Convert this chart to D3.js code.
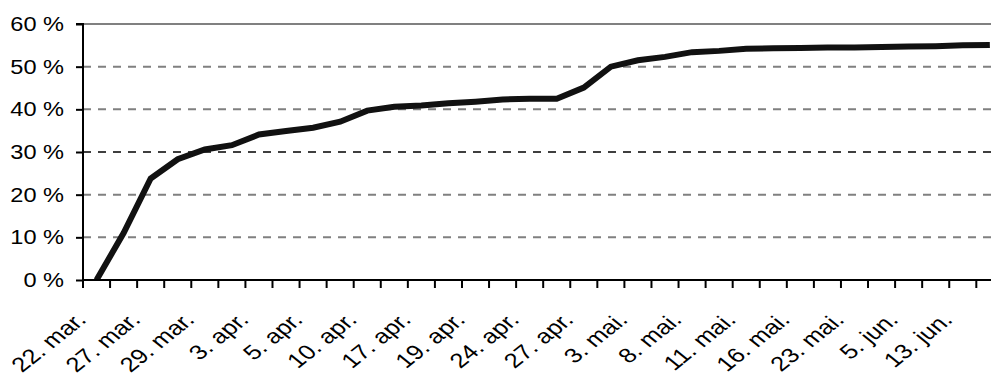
<!DOCTYPE html>
<html>
<head>
<meta charset="utf-8">
<script src="https://cdn.jsdelivr.net/npm/d3@7/dist/d3.min.js"></script>
<style>
  html, body { margin: 0; padding: 0; background: #fff; }
  svg { display: block; }
  text { font-family: "Liberation Sans", Arial, sans-serif; fill: #000; }
</style>
</head>
<body>
<svg id="chart" width="991" height="383"></svg>
<script>
// ---- data ----
const categories = [
  "22. mar.", "24. mar.", "27. mar.", "28. mar.", "29. mar.", "31. mar.",
  "3. apr.", "4. apr.", "5. apr.", "7. apr.", "10. apr.", "14. apr.",
  "17. apr.", "18. apr.", "19. apr.", "21. apr.", "24. apr.", "25. apr.",
  "27. apr.", "30. apr.", "3. mai.", "5. mai.", "8. mai.", "10. mai.",
  "11. mai.", "14. mai.", "16. mai.", "20. mai.", "23. mai.", "28. mai.",
  "5. jun.", "10. jun.", "13. jun.", "17. jun."
];
const values = [
  0, 11.0, 23.8, 28.3, 30.6, 31.6,
  34.1, 34.9, 35.7, 37.1, 39.7, 40.6,
  40.9, 41.4, 41.8, 42.3, 42.5, 42.5,
  45.1, 50.0, 51.5, 52.3, 53.4, 53.7,
  54.2, 54.3, 54.4, 54.5, 54.5, 54.6,
  54.7, 54.8, 55.0, 55.1
];
const yTicks = [0, 10, 20, 30, 40, 50, 60];

// ---- layout ----
const svg = d3.select("#chart");
const plotLeft = 83, plotTop = 24, plotBottom = 280;
const bandW = 27.07;
const plotRight = plotLeft + bandW * categories.length;
const stretchY = 1.15;
const stretchX = 1.25;

const x = d3.scaleBand().domain(categories).range([plotLeft, plotRight]).padding(0);
const y = d3.scaleLinear().domain([0, 60]).range([plotBottom, plotTop]);

// gridlines
svg.append("g").selectAll("line")
  .data(yTicks.filter(d => d > 0))
  .join("line")
  .attr("x1", plotLeft).attr("x2", plotRight)
  .attr("y1", d => y(d)).attr("y2", d => y(d))
  .attr("stroke", d => d === 30 ? "#000" : "#808080")
  .attr("stroke-width", d => d === 60 ? 2 : (d === 30 ? 1.5 : 2))
  .attr("stroke-dasharray", d => d === 60 ? null : "8,7");

// line
svg.append("clipPath").attr("id", "plotclip")
  .append("rect").attr("x", plotLeft).attr("y", 0)
  .attr("width", plotRight - plotLeft).attr("height", plotBottom);

const line = d3.line()
  .x((d, i) => x(categories[i]) + x.bandwidth() / 2)
  .y(d => y(d));

svg.append("path")
  .datum(values)
  .attr("clip-path", "url(#plotclip)")
  .attr("d", line)
  .attr("fill", "none")
  .attr("stroke", "#111")
  .attr("stroke-width", 6)
  .attr("stroke-linejoin", "miter");

// y axis
const yAxis = d3.axisLeft(y).tickValues(yTicks).tickSize(7).tickPadding(12)
  .tickFormat(d => d + " %");
const gy = svg.append("g").attr("transform", `translate(${plotLeft},0)`).call(yAxis);
gy.select(".domain").attr("stroke", "#000").attr("stroke-width", 2)
  .attr("d", `M-7,${plotTop}H0V${plotBottom}`);
gy.selectAll(".tick line").attr("stroke", "#000").attr("stroke-width", 2);
gy.selectAll(".tick text")
  .attr("font-size", 20.5)
  .attr("font-family", "Liberation Sans, Arial, sans-serif")
  .attr("fill", "#000")
  .attr("transform", `translate(-19,0) scale(${stretchY},1) translate(19,0)`);

// x axis
const gx = svg.append("g");
gx.append("line")
  .attr("x1", plotLeft).attr("x2", plotRight)
  .attr("y1", plotBottom).attr("y2", plotBottom)
  .attr("stroke", "#000").attr("stroke-width", 2);
const boundaries = categories.map(c => x(c)).concat([plotRight]);
gx.selectAll("line.tk").data(boundaries).join("line")
  .attr("class", "tk")
  .attr("x1", d => d).attr("x2", d => d)
  .attr("y1", plotBottom).attr("y2", plotBottom + 8)
  .attr("stroke", "#000").attr("stroke-width", 2);

gx.selectAll("text").data(categories.filter((c, i) => i % 2 === 0)).join("text")
  .attr("text-anchor", "end")
  .attr("font-size", 20.5)
  .attr("transform", d => `translate(${x(d) + x.bandwidth() / 2 - 9},${321}) scale(${stretchX},1) rotate(-45)`)
  .text(d => d);
</script>
</body>
</html>
